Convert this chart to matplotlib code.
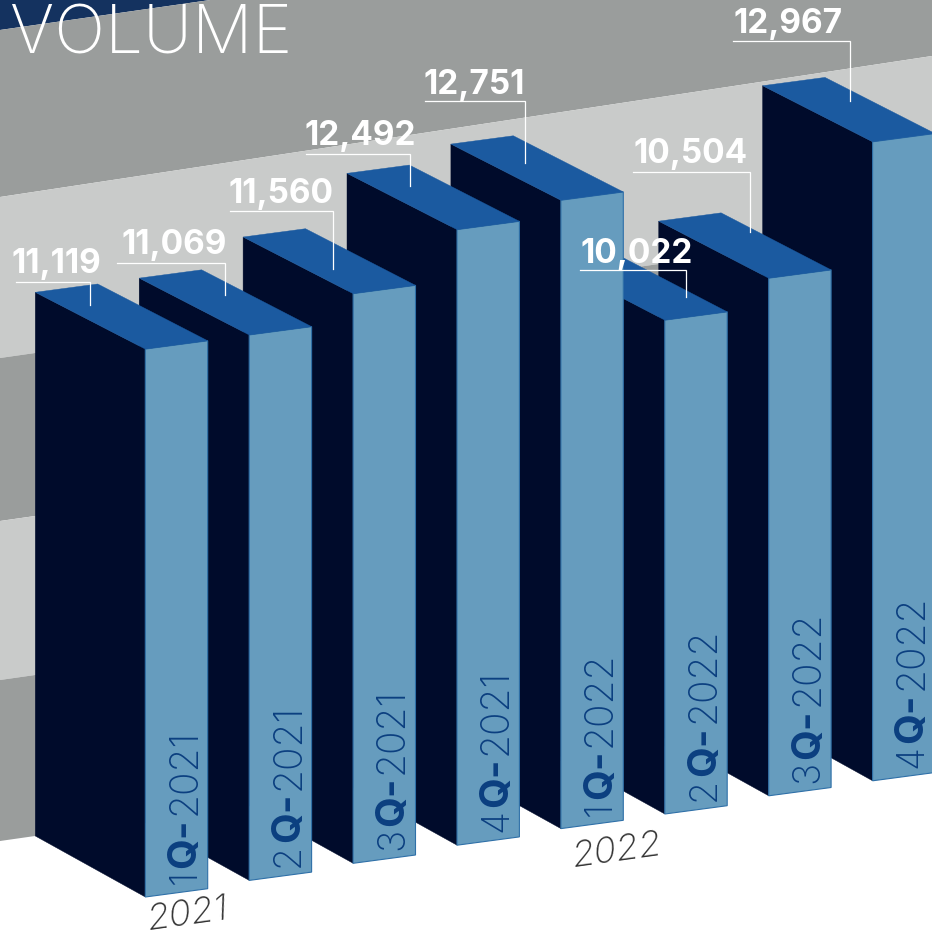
import matplotlib
matplotlib.use("Agg")
import matplotlib.pyplot as plt
from matplotlib.patches import Polygon
import numpy as np

# ---------- data ----------
quarters = ["1", "2", "3", "4", "1", "2", "3", "4"]
years = ["2021", "2021", "2021", "2021", "2022", "2022", "2022", "2022"]
volumes = [11119, 11069, 11560, 12492, 12751, 10022, 10504, 12967]
value_labels = ["11,119", "11,069", "11,560", "12,492", "12,751", "10,022", "10,504", "12,967"]
title = "VOLUME"
year_captions = ["2021", "2022"]

# ---------- layout (pixels) ----------
W, H = 932, 936
X0, Y0, DX, DY = 145.3, 897.0, 103.9, -16.6
base_nudge = [0, 0, -0.5, -2, -2, 0, -1.6, 0]
SCALE = 0.04928
RIGHT = (62.4, -8.3)
LEFT_X, LEFT_Y_BASE, LEFT_Y_PER_VALUE = -110.0, -61.0, 0.00038

leader_start = [16, 117, 229.5, 306, 425, 580, 633, 733]
leader_x = [90, 225, 332.5, 410, 525, 685.5, 750, 850.3]
leader_y = [281.5, 262.5, 211, 153.5, 101, 270, 171.5, 40.5]
leader_end = [304.5, 294.7, 269, 185.5, 162.5, 297, 232, 101]
label_cx = [56, 174.5, 280.5, 360, 474, 636.5, 690.5, 788.5]
label_base = [273.3, 254, 203.5, 145, 94, 262.5, 163.5, 33]

# (left y, right y at x=932) of diagonal bands
band_edges = [(30, -103), (197, 56), (358, 225), (521, 388), (680, 547), (841, 708)]
band_colors = ["#9A9D9C", "#C9CBCA", "#9A9D9C", "#C9CBCA", "#9A9D9C"]

NAVY, TOP, FRONT, EDGE = "#000B2B", "#1B5AA0", "#669CBE", "#2F70A8"
LABEL = "#0B3F80"

fig = plt.figure(figsize=(W / 100, H / 100), dpi=100, facecolor="white")
ax = fig.add_axes([0, 0, 1, 1])
ax.set_xlim(0, W)
ax.set_ylim(H, 0)
ax.axis("off")

# ---------- background bands ----------
xs = np.array([0, W])
ax.fill_between(xs, [-10, -10], band_edges[0], color="#14325F", lw=0, zorder=0)
for (a, b), c in zip(zip(band_edges[:-1], band_edges[1:]), band_colors):
    ax.fill_between(xs, a, b, color=c, lw=0, zorder=0)

ax.text(292, 54, title, color="white", fontsize=48.5, family="Inter", weight="light",
        ha="right", va="baseline", zorder=1)


def project(i, value):
    """Bar i's top and base corners, in pixels."""
    cx = X0 + DX * i
    cy = Y0 + DY * i + base_nudge[i]
    h = value * SCALE
    ly = LEFT_Y_BASE + LEFT_Y_PER_VALUE * value
    return {
        "fb": (cx, cy),
        "rb": (cx + RIGHT[0], cy + RIGHT[1]),
        "lb": (cx + LEFT_X, cy + LEFT_Y_BASE),
        "ft": (cx, cy - h),
        "rt": (cx + RIGHT[0], cy - h + RIGHT[1]),
        "lt": (cx + LEFT_X, cy - h + ly),
        "bt": (cx + LEFT_X + RIGHT[0], cy - h + ly + RIGHT[1]),
    }


renderer = fig.canvas.get_renderer()

# back to front: the rightmost bar is farthest away
for i in range(len(volumes) - 1, -1, -1):
    p = project(i, volumes[i])
    z = 10 + (len(volumes) - i) * 2
    ax.add_patch(Polygon([p["lb"], p["fb"], p["ft"], p["lt"]], fc=NAVY, ec=NAVY, lw=0.3, zorder=z))
    ax.add_patch(Polygon([p["fb"], p["rb"], p["rt"], p["ft"]], fc=FRONT, ec=EDGE, lw=0.8, zorder=z))
    ax.add_patch(Polygon([p["lt"], p["ft"], p["rt"], p["bt"]], fc=TOP, ec=TOP, lw=0.3, zorder=z))

    # rotated "1Q-2021" label, built from three weights
    bx = p["fb"][0] + 50
    by = p["fb"][1] - 13.0
    for txt, wt, size, gap in [(quarters[i], "light", 27, 2), ("Q-", "bold", 28.5, 3), (years[i], "light", 28, 0)]:
        t = ax.text(bx, by, txt, rotation=90, rotation_mode="anchor", ha="left", va="baseline",
                    color=LABEL, fontsize=size, family="Inter", weight=wt, zorder=z + 1)
        by -= t.get_window_extent(renderer).height + gap

# ---------- value labels and leaders ----------
for i, lab in enumerate(value_labels):
    ax.plot([leader_start[i], leader_x[i], leader_x[i]],
            [leader_y[i], leader_y[i], leader_end[i]],
            color="white", lw=0.9, solid_joinstyle="miter", zorder=40)
    ax.text(label_cx[i], label_base[i], lab, color="white", fontsize=24, family="Inter",
            weight="bold", ha="center", va="baseline", zorder=40)

# ---------- year captions ----------
for txt, (x, y) in zip(year_captions, [(188, 914.5), (617, 851)]):
    ax.text(x, y, txt, color="#333333", fontsize=26.5, family="Inter", weight="light",
            style="italic", rotation=8, rotation_mode="anchor", ha="center", va="center", zorder=5)

fig.savefig("out.png", dpi=100, facecolor="white")
